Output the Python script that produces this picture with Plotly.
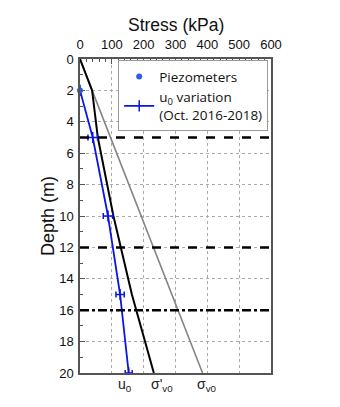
import plotly.graph_objects as go

# ---- data ----
depth_sv = [0, 2, 20]
sigma_v0 = [0, 38, 385]

depth_eff = [0, 2, 5, 10, 15, 20]
sigma_v0_eff = [0, 38, 56, 105, 163, 232]

depth_u = [2, 5, 10, 15, 20]
u0 = [0, 40, 88, 126, 153]
u0_err = [0, 15, 15, 13, 11]

piezo_depth = [2]
piezo_u = [0]

layer_depths = [5, 12, 16]
layer_dash = ["dash", "dash", "dashdot"]

x_ticks = [0, 100, 200, 300, 400, 500, 600]
y_ticks = list(range(0, 21, 2))

end_labels = ["u<sub>0</sub>", "σ'<sub>v0</sub>", "σ<sub>v0</sub>"]
end_values = [u0[-1], sigma_v0_eff[-1], sigma_v0[-1]]
end_shift = [-4, 8, 4]

fig = go.Figure()

fig.add_trace(go.Scatter(x=sigma_v0, y=depth_sv, mode="lines",
                         line=dict(color="#858585", width=1.6), showlegend=False))
fig.add_trace(go.Scatter(x=sigma_v0_eff, y=depth_eff, mode="lines",
                         line=dict(color="black", width=2), showlegend=False))
fig.add_trace(go.Scatter(x=u0, y=depth_u, mode="lines+markers",
                         name="u<sub>0</sub> variation<br>(Oct. 2016-2018)",
                         line=dict(color="#0a14e6", width=1.8),
                         marker=dict(symbol="line-ns-open", size=8,
                                     line=dict(color="#0a14e6", width=1.5)),
                         error_x=dict(type="data", array=u0_err, visible=True,
                                      color="#0a14e6", thickness=1.5, width=3),
                         legendrank=2))
fig.add_trace(go.Scatter(x=piezo_u, y=piezo_depth, mode="markers", name="Piezometers",
                         marker=dict(color="#2a5cf0", size=6), cliponaxis=False,
                         legendrank=1))

for d, ds in zip(layer_depths, layer_dash):
    fig.add_hline(y=d, line=dict(color="black", width=2.5, dash=ds))

for lab, v, s in zip(end_labels, end_values, end_shift):
    fig.add_annotation(x=v, y=0, xref="x", yref="paper", text=lab, showarrow=False,
                       xshift=s, yanchor="top", yshift=-1,
                       font=dict(family="Arial, Liberation Sans", size=14, color="#222"))

# x-axis title placed as annotation above the top tick labels
fig.add_annotation(x=0.5, y=1, xref="paper", yref="paper", text="Stress (kPa)",
                   showarrow=False, yanchor="bottom", yshift=22,
                   font=dict(family="Arial, Liberation Sans", size=17.5, color="#111"))

fig.update_layout(
    width=340, height=407,
    margin=dict(l=72, r=77, t=51, b=42),
    paper_bgcolor="white", plot_bgcolor="white",
    font=dict(family="Arial, Liberation Sans", size=13, color="#111"),
    legend=dict(x=0.2, y=0.996, xanchor="left", yanchor="top",
                bordercolor="#9a9a9a", borderwidth=1, bgcolor="white",
                font=dict(family="Open Sans", size=13.5, color="#111"),
                tracegroupgap=0, itemwidth=30),
    xaxis=dict(side="top", range=[0, 600], tickvals=x_ticks, automargin=False,
               ticklabelstandoff=3,
               showgrid=True, gridcolor="#aaaaaa", griddash="dot", gridwidth=1,
               showline=True, linecolor="#555", linewidth=1.5, mirror=True,
               ticks="inside", ticklen=5, tickcolor="#555",
               minor=dict(dtick=20, ticks="inside", ticklen=3, tickcolor="#555",
                          showgrid=False),
               zeroline=False, tickfont=dict(size=13)),
    yaxis=dict(range=[20, 0], tickvals=y_ticks, automargin=False,
               ticklabelstandoff=2,
               title=dict(text="Depth (m)", font=dict(size=18), standoff=0),
               showgrid=True, gridcolor="#aaaaaa", griddash="dot", gridwidth=1,
               showline=True, linecolor="#555", linewidth=1.5, mirror=True,
               ticks="inside", ticklen=5, tickcolor="#555",
               minor=dict(dtick=1, ticks="inside", ticklen=3, tickcolor="#555",
                          showgrid=False),
               zeroline=False, tickfont=dict(size=13)),
)

fig.write_html("out.html")
